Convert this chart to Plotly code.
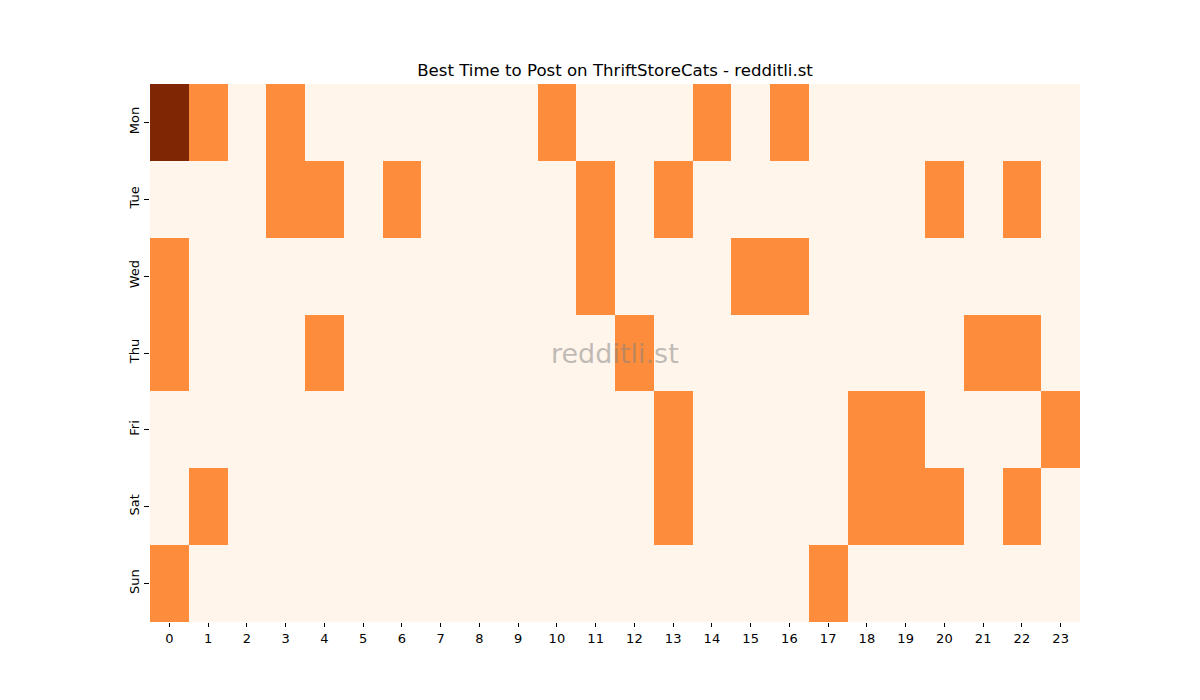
import plotly.graph_objects as go

hours = [str(h) for h in range(24)]
days = ["Mon", "Tue", "Wed", "Thu", "Fri", "Sat", "Sun"]

mon = [2, 1, 0, 1, 0, 0, 0, 0, 0, 0, 1, 0, 0, 0, 1, 0, 1, 0, 0, 0, 0, 0, 0, 0]
tue = [0, 0, 0, 1, 1, 0, 1, 0, 0, 0, 0, 1, 0, 1, 0, 0, 0, 0, 0, 0, 1, 0, 1, 0]
wed = [1, 0, 0, 0, 0, 0, 0, 0, 0, 0, 0, 1, 0, 0, 0, 1, 1, 0, 0, 0, 0, 0, 0, 0]
thu = [1, 0, 0, 0, 1, 0, 0, 0, 0, 0, 0, 0, 1, 0, 0, 0, 0, 0, 0, 0, 0, 1, 1, 0]
fri = [0, 0, 0, 0, 0, 0, 0, 0, 0, 0, 0, 0, 0, 1, 0, 0, 0, 0, 1, 1, 0, 0, 0, 1]
sat = [0, 1, 0, 0, 0, 0, 0, 0, 0, 0, 0, 0, 0, 1, 0, 0, 0, 0, 1, 1, 1, 0, 1, 0]
sun = [1, 0, 0, 0, 0, 0, 0, 0, 0, 0, 0, 0, 0, 0, 0, 0, 0, 1, 0, 0, 0, 0, 0, 0]

z = [mon, tue, wed, thu, fri, sat, sun]

# matplotlib "Oranges" roughly
oranges = [
    [0.0, "#fff5eb"], [0.125, "#fee6ce"], [0.25, "#fdd0a2"], [0.375, "#fdae6b"],
    [0.5, "#fd8d3c"], [0.625, "#f16913"], [0.75, "#d94801"], [0.875, "#a63603"],
    [1.0, "#7f2704"],
]

fig = go.Figure(go.Heatmap(
    z=z, x=hours, y=days,
    colorscale=oranges, zmin=0, zmax=2,
    showscale=False, xgap=0, ygap=0,
))

fig.update_xaxes(
    type="category", ticks="outside", ticklen=4, tickcolor="black",
    showgrid=False, zeroline=False, showline=False,
    tickfont=dict(size=13, color="black"),
)
fig.update_yaxes(
    type="category", autorange="reversed", ticks="outside", ticklen=5,
    tickcolor="black", tickangle=-90, showgrid=False, zeroline=False,
    tickfont=dict(size=13, color="black"),
)

fig.add_annotation(
    text="redditli.st", x=0.5, y=0.5, xref="paper", yref="paper",
    showarrow=False, font=dict(size=27, color="rgba(128,128,128,0.5)"),
)

# page body adds 8px offset, so margins are shifted to compensate
fig.update_layout(
    width=1200, height=700,
    margin=dict(l=142, r=128, t=76, b=86),
    paper_bgcolor="white", plot_bgcolor="white",
    font=dict(family="DejaVu Sans", color="black"),
    title=dict(text="Best Time to Post on ThriftStoreCats - redditli.st",
               x=(142 + 465) / 1200, xanchor="center", y=1 - 62 / 700, yanchor="middle",
               font=dict(size=16.6, color="black")),
)

fig.write_html("out.html")
